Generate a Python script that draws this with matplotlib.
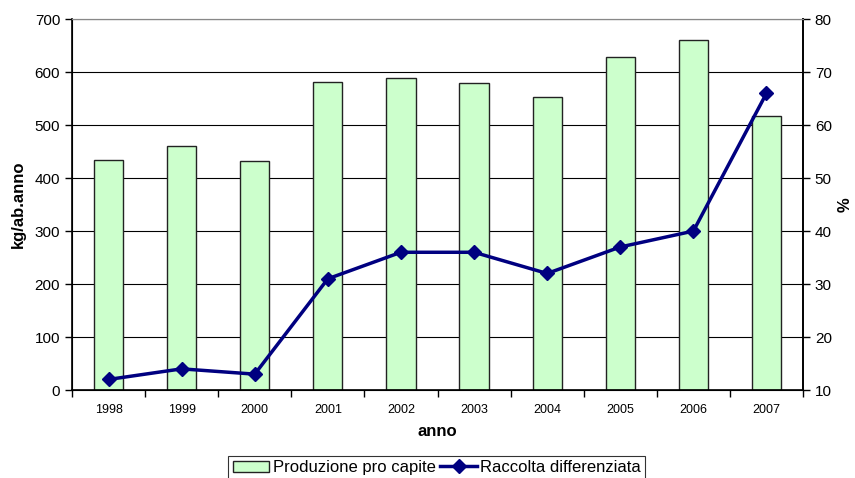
import matplotlib.pyplot as plt
import numpy as np

plt.rcParams['font.family'] = ['Liberation Sans', 'DejaVu Sans']

anni = ["1998", "1999", "2000", "2001", "2002", "2003", "2004", "2005", "2006", "2007"]
produzione = [435, 460, 433, 581, 589, 580, 553, 628, 660, 518]   # kg/ab.anno
raccolta = [12, 14, 13, 31, 36, 36, 32, 37, 40, 66]                # %

x = np.arange(len(anni))

fig = plt.figure(figsize=(8.55, 4.78), dpi=100)
ax = fig.add_axes([0.0842, 0.184, 0.855, 0.776])

ax.set_axisbelow(True)
ax.yaxis.grid(True, color="black", linewidth=0.8)
bars = ax.bar(x, produzione, 0.4, color="#ccffcc", edgecolor="#222222", linewidth=1,
              label="Produzione pro capite", zorder=2)
ax.set_xlim(-0.5, 9.5)
ax.set_ylim(0, 700)
ax.set_yticks(np.arange(0, 701, 100))
ax.set_xticks(x)
ax.set_xticklabels(anni, fontsize=9)
ax.set_xticks(np.arange(-0.5, 10, 1), minor=True)
ax.tick_params(axis="x", which="major", length=0, pad=10)
ax.tick_params(axis="x", which="minor", length=5, direction="out", width=1)
ax.tick_params(axis="y", length=5, direction="out", labelsize=11, width=1)
ax.set_xlabel("anno", fontsize=12, fontweight="bold", labelpad=6)
ax.set_ylabel("kg/ab.anno", fontsize=12, fontweight="bold", labelpad=6)
ax.spines["top"].set_color("#888888")
for s in ["left", "bottom", "right"]:
    ax.spines[s].set_linewidth(1.2)

ax2 = ax.twinx()
line, = ax2.plot(x, raccolta, color="#000080", linewidth=2.5, marker="D", markersize=7,
                 label="Raccolta differenziata", zorder=3)
ax2.set_ylim(10, 80)
ax2.set_yticks(np.arange(10, 81, 10))
ax2.tick_params(axis="y", length=5, direction="out", labelsize=11, width=1)
ax2.set_ylabel("%", fontsize=12, fontweight="bold", labelpad=4)
ax2.spines["top"].set_color("#888888")
ax2.spines["right"].set_linewidth(1.2)

leg = fig.legend([bars, line], ["Produzione pro capite", "Raccolta differenziata"],
                 loc="upper center", bbox_to_anchor=(0.511, 0.046), ncol=2, fontsize=12,
                 frameon=True, fancybox=False, edgecolor="black", handlelength=2.2,
                 handletextpad=0.2, columnspacing=0.3, borderpad=0.25, borderaxespad=0)
leg.get_frame().set_linewidth(0.8)

fig.savefig("out.png", dpi=100)
